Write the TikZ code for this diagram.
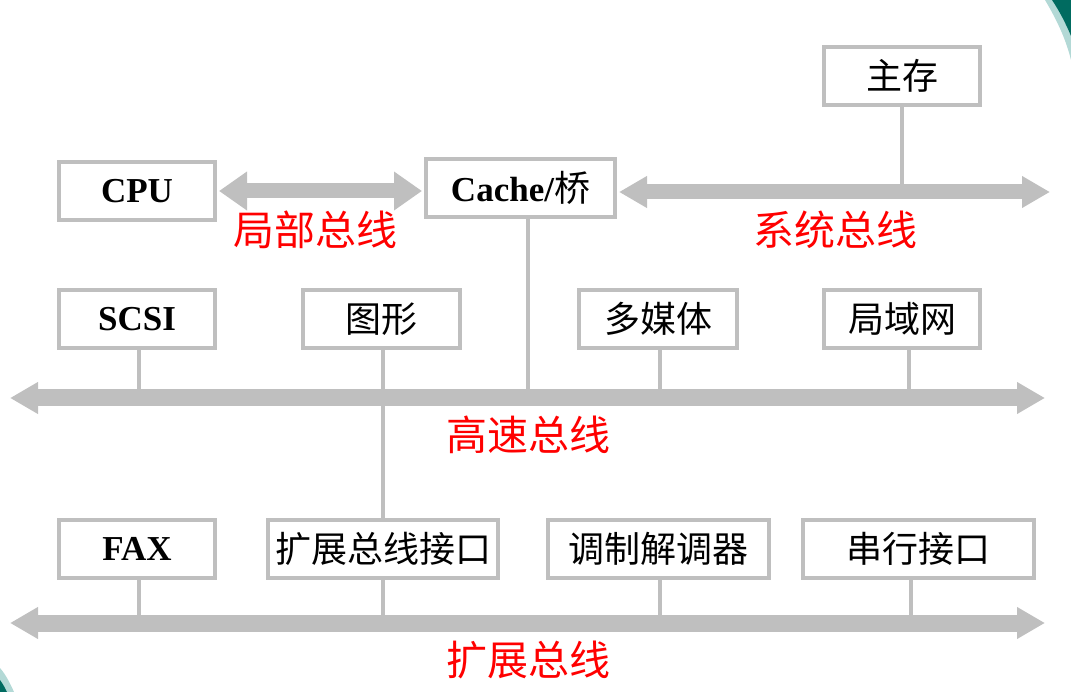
\documentclass[tikz,border=0pt]{standalone}
\usepackage{fontspec}
\setmainfont{Liberation Serif}
\newfontfamily\cjk{Noto Sans CJK SC}
\usetikzlibrary{arrows.meta}
\definecolor{busgray}{HTML}{BFBFBF}
\definecolor{tealdark}{HTML}{006B60}
\definecolor{teallight}{HTML}{B3D9D6}
\tikzset{
  bigtip/.tip={Triangle[length=28pt, width=37pt]},
  midtip/.tip={Triangle[length=28pt, width=30pt]},
  unitbox/.style={draw=busgray, line width=4pt, fill=white, minimum height=58pt, inner sep=0pt, font=\fontsize{36}{40}\selectfont},
  buslabel/.style={text=red, font=\fontsize{41}{44}\selectfont\cjk, inner sep=0pt},
  busline/.style={draw=busgray, line width=#1},
  stub/.style={draw=busgray, line width=4pt}
}
\begin{document}
\begin{tikzpicture}[x=1pt, y=-1pt]
\useasboundingbox (0,0) rectangle (1071,692);
% corner decorations
\fill[teallight] (1045,0) .. controls (1058,22) and (1066,40) .. (1071,60) -- (1071,0) -- cycle;
\fill[tealdark] (1052,0) .. controls (1060,12) and (1066,24) .. (1071,36) -- (1071,0) -- cycle;
\fill[teallight] (0,668) .. controls (6,675) and (10,683) .. (14,692) -- (0,692) -- cycle;
\fill[tealdark] (0,680) .. controls (3,684) and (5,688) .. (7,692) -- (0,692) -- cycle;

% boxes
\node[unitbox, minimum width=156pt] (mem) at (902,76) {\cjk 主存};
\node[unitbox, minimum width=156pt] (cpu) at (137,191) {\bfseries\fontsize{35}{40}\selectfont CPU};
\node[unitbox, minimum width=189pt] (cache) at (520.5,188) {\fontsize{35}{40}\selectfont\bfseries Cache/{\mdseries\fontsize{36}{40}\selectfont\cjk 桥}};
\node[unitbox, minimum width=156pt] (scsi) at (137,319) {\bfseries\fontsize{35}{40}\selectfont SCSI};
\node[unitbox, minimum width=157pt] (gfx) at (381.5,319) {\cjk 图形};
\node[unitbox, minimum width=158pt] (mm) at (658,319) {\cjk 多媒体};
\node[unitbox, minimum width=156pt] (lan) at (902,319) {\cjk 局域网};
\node[unitbox, minimum width=156pt] (fax) at (137,549) {\bfseries\fontsize{35}{40}\selectfont FAX};
\node[unitbox, minimum width=230pt] (ebi) at (383,549) {\cjk 扩展总线接口};
\node[unitbox, minimum width=221pt] (modem) at (658.5,549) {\cjk 调制解调器};
\node[unitbox, minimum width=231pt] (serial) at (918.5,549) {\cjk 串行接口};

% bus end points
\coordinate (sysR) at (1050,192);
\coordinate (hsL) at (10,398);
\coordinate (hsR) at (1045,398);
\coordinate (exL) at (10,623);
\coordinate (exR) at (1045,623);

% stubs
\draw[stub] ([xshift=2pt]scsi.south) coordinate (s1) -- (s1 |- hsL);
\draw[stub] (mem.south) -- (mem.south |- sysR);
\draw[stub] ([xshift=7.5pt]cache.south) coordinate (c1) -- (c1 |- hsL);
\draw[stub] ([xshift=1.5pt]gfx.south) -- (ebi.north);
\draw[stub] ([xshift=2pt]mm.south) coordinate (m1) -- (m1 |- hsL);
\draw[stub] ([xshift=7pt]lan.south) coordinate (l1) -- (l1 |- hsL);
\draw[stub] ([xshift=2pt]fax.south) coordinate (f1) -- (f1 |- exL);
\draw[stub] (ebi.south) -- (ebi.south |- exL);
\draw[stub] ([xshift=1.5pt]modem.south) coordinate (d1) -- (d1 |- exL);
\draw[stub] ([xshift=-7.5pt]serial.south) coordinate (r1) -- (r1 |- exL);

% buses
\draw[busline=15pt, bigtip-bigtip] ([xshift=2pt]cpu.east) -- ([xshift=-2pt]cache.west |- cpu.east);
\draw[busline=15pt, midtip-midtip] ([xshift=2pt]cache.east |- sysR) -- (sysR);
\draw[busline=17pt, midtip-midtip] (hsL) -- (hsR);
\draw[busline=17pt, midtip-midtip] (exL) -- (exR);

% bus labels
\node[buslabel] (lbus) at (315,230) {局部总线};
\node[buslabel] (sbus) at (835,230) {系统总线};
\node[buslabel] (hbus) at (528,435) {高速总线};
\node[buslabel] (ebus) at (528,660) {扩展总线};
\end{tikzpicture}
\end{document}
